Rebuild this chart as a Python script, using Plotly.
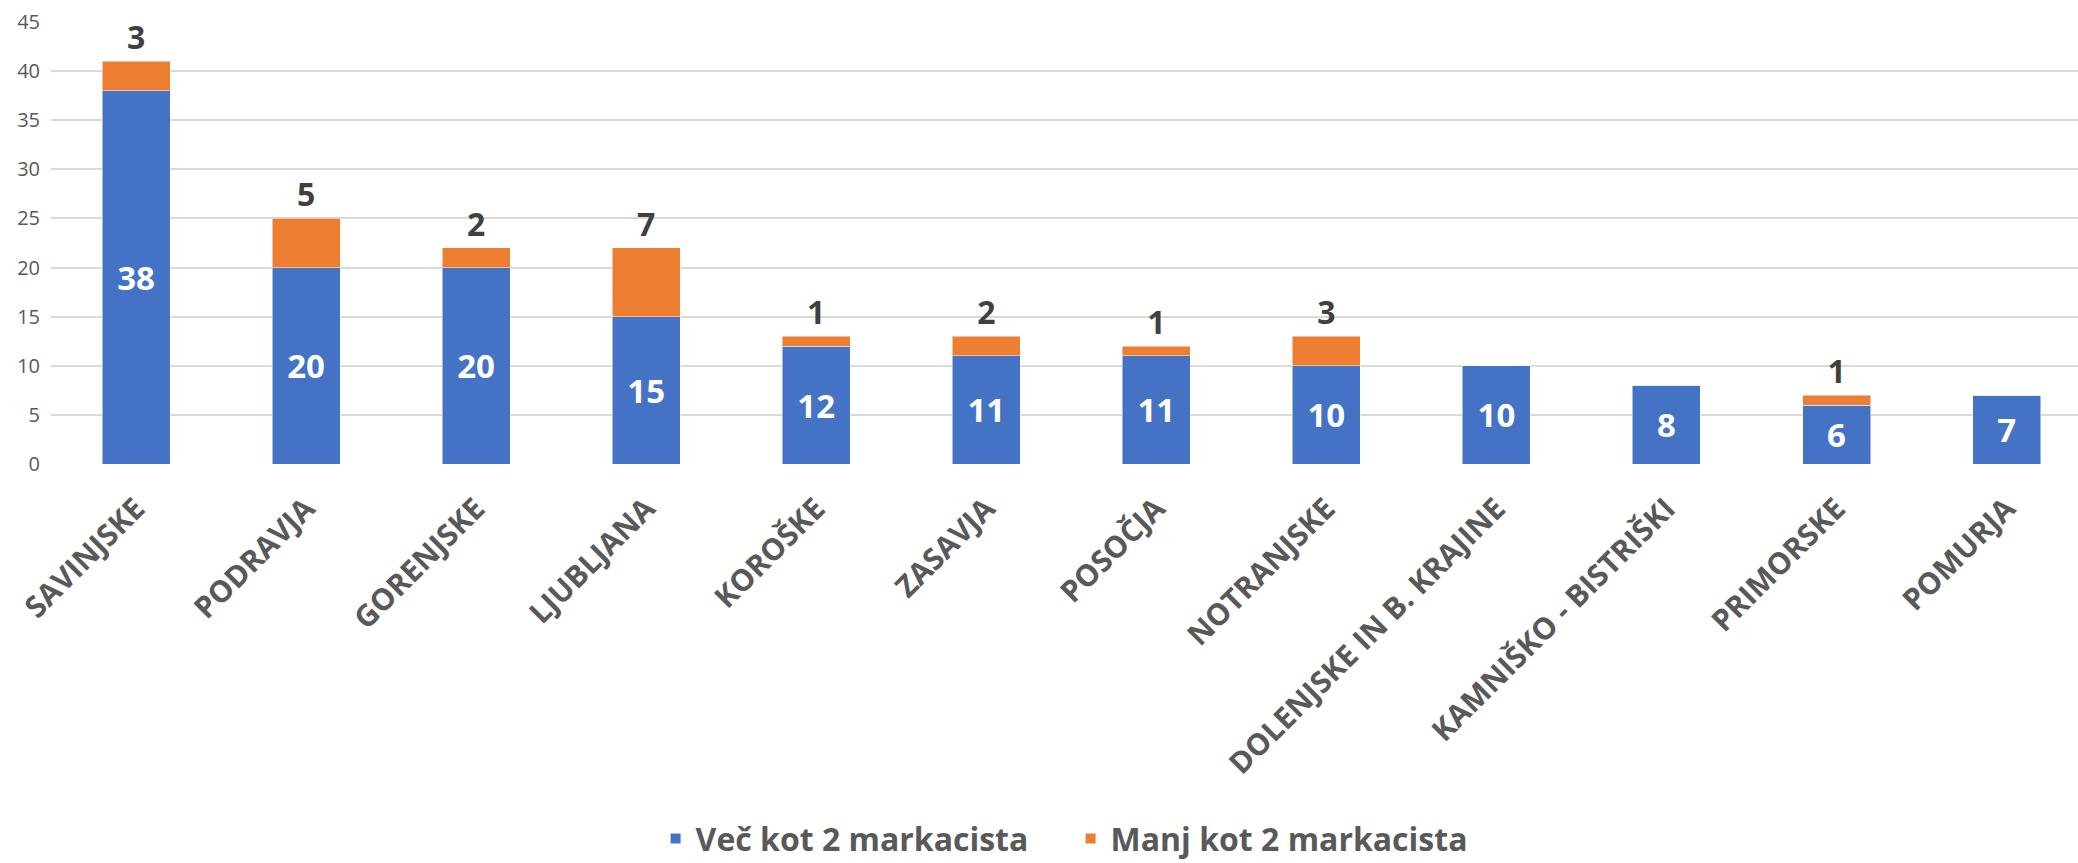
import plotly.graph_objects as go

categories = ["SAVINJSKE", "PODRAVJA", "GORENJSKE", "LJUBLJANA", "KOROŠKE", "ZASAVJA",
              "POSOČJA", "NOTRANJSKE", "DOLENJSKE IN B. KRAJINE", "KAMNIŠKO - BISTRIŠKI",
              "PRIMORSKE", "POMURJA"]
vec_kot_2 = [38, 20, 20, 15, 12, 11, 11, 10, 10, 8, 6, 7]
manj_kot_2 = [3, 5, 2, 7, 1, 2, 1, 3, 0, 0, 1, 0]
series_names = ["Več kot 2 markacista", "Manj kot 2 markacista"]

BLUE = "#4472C4"
ORANGE = "#ED7D31"
FONT = "Open Sans"

fig = go.Figure()
fig.add_trace(go.Bar(
    x=categories, y=vec_kot_2, name=series_names[0],
    marker=dict(color=BLUE, line=dict(color="white", width=0.5)),
    text=[str(v) for v in vec_kot_2],
    textposition="inside", insidetextanchor="middle", textangle=0,
    constraintext="none",
    textfont=dict(family=FONT, size=33, color="white", weight="bold"),
    cliponaxis=False,
))
fig.add_trace(go.Bar(
    x=categories, y=manj_kot_2, name=series_names[1],
    marker=dict(color=ORANGE, line=dict(color="white", width=0.5)),
    text=[str(v) if v else "" for v in manj_kot_2],
    textposition="outside", textangle=0, constraintext="none",
    textfont=dict(family=FONT, size=32, color="#404040", weight="bold"),
    cliponaxis=False,
))

fig.update_layout(
    barmode="stack",
    bargap=0.6,
    width=2078, height=863,
    margin=dict(l=51, r=0, t=22, b=399, autoexpand=False),
    paper_bgcolor="white", plot_bgcolor="white",
    font=dict(family=FONT, color="#595959"),
    legend=dict(
        orientation="h", x=0.503, xanchor="center", y=-0.848, yanchor="middle",
        font=dict(family=FONT, size=32, color="#595959", weight="bold"),
        itemsizing="constant", traceorder="normal",
        entrywidth=370,
    ),
    uniformtext=dict(mode=False),
)
fig.update_xaxes(
    range=[-0.5, 11.42],
    tickangle=-45,
    tickfont=dict(family=FONT, size=30, color="#595959", weight="bold"),
    showgrid=False, showline=False, ticks="",
    automargin=False,
    ticklabelstandoff=20,
)
fig.update_yaxes(
    range=[0, 45], dtick=5,
    showgrid=True, gridcolor="#D9D9D9", gridwidth=1.5,
    zeroline=False, showline=False, ticks="",
    tickfont=dict(family=FONT, size=20, color="#595959"),
    ticklabelstandoff=10,
    automargin=False,
)

fig.write_html("out.html", config={"displayModeBar": False},
               post_script="document.body.style.margin='0';")
